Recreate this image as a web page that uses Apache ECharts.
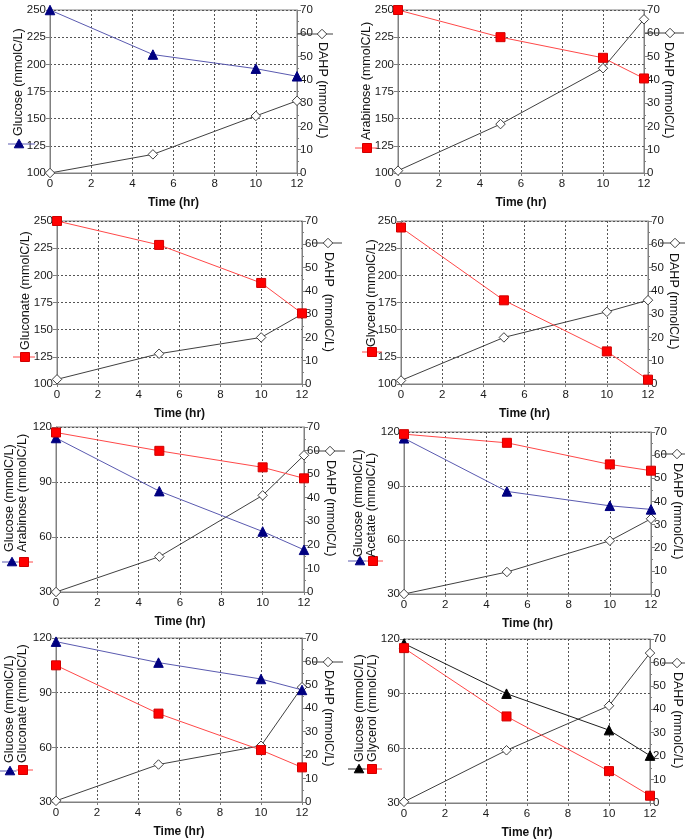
<!DOCTYPE html>
<html><head><meta charset="utf-8">
<script src="https://cdn.jsdelivr.net/npm/echarts@6/dist/echarts.min.js"></script>
<style>html,body{margin:0;padding:0;background:#fff}#c{width:685px;height:840px}</style>
</head><body><div id="c"></div>
<script>
// ---- data ----
const time = [0, 5, 10, 12];
const xTicks = [0, 2, 4, 6, 8, 10, 12];
const p1Glucose = [250, 209, 196, 189];
const p1DAHP = [0, 8, 24.5, 31];
const p2Arabinose = [250, 225, 206, 187];
const p2DAHP = [1, 21, 45, 66];
const p3Gluconate = [250, 228, 193, 165];
const p3DAHP = [2, 13, 20, 30];
const p4Glycerol = [244, 177, 130, 104];
const p4DAHP = [1.5, 20, 31, 36];
const p5Glucose = [114, 85, 63, 53];
const p5Arabinose = [117, 107, 98, 92];
const p5DAHP = [0, 15, 41, 58];
const p6Glucose = [116.5, 87, 79, 77];
const p6Acetate = [118.8, 114, 102, 98.5];
const p6DAHP = [0, 9.5, 23, 32.5];
const p7Glucose = [118, 106.5, 97.5, 91.5];
const p7Gluconate = [105, 78.5, 58.5, 49];
const p7DAHP = [0.5, 16, 24, 49];
const p8Glucose = [117.5, 90, 70, 56];
const p8Glycerol = [115, 77.5, 47.5, 34];
const p8DAHP = [0.5, 22.5, 41.5, 64];
const leftTicksA = [100, 125, 150, 175, 200, 225, 250];
const leftTicksB = [30, 60, 90, 120];
const rightTicks = [0, 10, 20, 30, 40, 50, 60, 70];

// ---- styles ----
const BLUE_LINE = '#5a5ab0', BLUE_MK = '#000080';
const RED_LINE = '#ff4848', RED_MK = '#ff0000';
const BLACK = '#202020';
const FRAME = '#808080';
const FONT = 'Liberation Sans, Arial, sans-serif';

const styles = {
  glu: {symbol: 'triangle', size: 9.5, line: BLUE_LINE, mk: BLUE_MK, border: BLUE_MK},
  gluK: {symbol: 'triangle', size: 9.5, line: BLACK, mk: '#000', border: '#000'},
  red: {symbol: 'rect', size: 9, line: RED_LINE, mk: RED_MK, border: '#d00000'},
  dahp: {symbol: 'diamond', size: 9.5, line: '#404040', mk: '#fff', border: '#404040'}
};

// ---- panel layout ----
const panels = [
  {grid: [50, 10, 247, 163], ymin: 100, ymax: 250, yint: 25,
   left: [{name: 'Glucose (mmolC/L)', data: p1Glucose, st: 'glu', tx: 19, ty: 136, kx: 19, ky: 144}],
   keyLine: [8, 35], right: {name: 'DAHP (mmolC/L)', data: p1DAHP, tx: 322, ty: 42, kx: 322, ky: 34, l: [297, 333]}},
  {grid: [398, 10, 246, 163], ymin: 100, ymax: 250, yint: 25,
   left: [{name: 'Arabinose (mmolC/L)', data: p2Arabinose, st: 'red', tx: 367, ty: 140, kx: 367, ky: 148}],
   keyLine: [355, 377], right: {name: 'DAHP (mmolC/L)', data: p2DAHP, tx: 668, ty: 42, kx: 670, ky: 33, l: [645, 684]}},
  {grid: [57, 221, 245, 163], ymin: 100, ymax: 250, yint: 25,
   left: [{name: 'Gluconate (mmolC/L)', data: p3Gluconate, st: 'red', tx: 26, ty: 350, kx: 25, ky: 357}],
   keyLine: [13, 35], right: {name: 'DAHP  (mmolC/L)', data: p3DAHP, tx: 328, ty: 252, kx: 328, ky: 243, l: [313, 342]}},
  {grid: [401, 221, 247, 163], ymin: 100, ymax: 250, yint: 25,
   left: [{name: 'Glycerol (mmolC/L)', data: p4Glycerol, st: 'red', tx: 372, ty: 347, kx: 372, ky: 352}],
   keyLine: [362, 382], right: {name: 'DAHP (mmolC/L)', data: p4DAHP, tx: 673, ty: 253, kx: 675, ky: 243, l: [660, 685]}},
  {grid: [56, 427, 248, 165], ymin: 30, ymax: 120, yint: 30,
   left: [{name: 'Glucose (mmolC/L)', data: p5Glucose, st: 'glu', tx: 10, ty: 552, kx: 12, ky: 562},
          {name: 'Arabinose (mmolC/L)', data: p5Arabinose, st: 'red', tx: 23, ty: 552, kx: 24, ky: 562}],
   keyLine: [2, 33], right: {name: 'DAHP (mmolC/L)', data: p5DAHP, tx: 330, ty: 460, kx: 330, ky: 451, l: [315, 345]}},
  {grid: [404, 432, 247, 162], ymin: 30, ymax: 120, yint: 30,
   left: [{name: 'Glucose (mmolC/L)', data: p6Glucose, st: 'glu', tx: 359, ty: 557, kx: 360, ky: 561},
          {name: 'Acetate (mmolC/L)', data: p6Acetate, st: 'red', tx: 372, ty: 557, kx: 373, ky: 561}],
   keyLine: [348, 383], right: {name: 'DAHP (mmolC/L)', data: p6DAHP, tx: 677, ty: 463, kx: 677, ky: 454, l: [662, 685]}},
  {grid: [56, 638, 246, 164], ymin: 30, ymax: 120, yint: 30,
   left: [{name: 'Glucose (mmolC/L)', data: p7Glucose, st: 'glu', tx: 10, ty: 763, kx: 10, ky: 771},
          {name: 'Gluconate (mmolC/L)', data: p7Gluconate, st: 'red', tx: 23, ty: 763, kx: 23, ky: 770}],
   keyLine: [0, 33], right: {name: 'DAHP (mmolC/L)', data: p7DAHP, tx: 328, ty: 670, kx: 328, ky: 662, l: [313, 343]}},
  {grid: [404, 639, 246, 164], ymin: 30, ymax: 120, yint: 30,
   left: [{name: 'Glucose (mmolC/L)', data: p8Glucose, st: 'gluK', tx: 360, ty: 762, kx: 359, ky: 769},
          {name: 'Glycerol (mmolC/L)', data: p8Glycerol, st: 'red', tx: 373, ty: 762, kx: 372, ky: 769}],
   keyLine: [348, 382], right: {name: 'DAHP (mmolC/L)', data: p8DAHP, tx: 677, ty: 672, kx: 677, ky: 663, l: [662, 685]}}
];

const grids = [], xAxes = [], yAxes = [], series = [], graphics = [];

function keyShape(st, x, y) {
  const s = styles[st];
  const h = s.size / 2;
  const style = {fill: s.mk, stroke: s.border, lineWidth: 1};
  if (s.symbol === 'triangle') return {type: 'polygon', shape: {points: [[x, y - h], [x + h, y + h * 0.8], [x - h, y + h * 0.8]]}, style, z: 10};
  if (s.symbol === 'rect') return {type: 'rect', shape: {x: x - h, y: y - h, width: s.size, height: s.size}, style, z: 10};
  return {type: 'polygon', shape: {points: [[x, y - h], [x + h, y], [x, y + h], [x - h, y]]}, style, z: 10};
}
function keyLine(x1, x2, y, color) {
  return {type: 'line', shape: {x1, y1: y, x2, y2: y}, style: {stroke: color, lineWidth: 1}, z: 9};
}

panels.forEach((p, i) => {
  const [l, t, w, h] = p.grid;
  grids.push({left: l, top: t, width: w, height: h, show: true, borderColor: FRAME, borderWidth: 1, backgroundColor: 'transparent', containLabel: false});
  xAxes.push({
    type: 'value', gridIndex: i, min: 0, max: 12, interval: 2,
    name: 'Time (hr)', nameLocation: 'middle', nameGap: 24,
    nameTextStyle: {fontFamily: FONT, fontSize: 12, fontWeight: 'bold', color: '#111'},
    axisLine: {show: true, lineStyle: {color: FRAME}},
    axisTick: {show: true, inside: false, length: 3, lineStyle: {color: FRAME}},
    axisLabel: {fontFamily: FONT, fontSize: 11.5, color: '#1a1a1a', margin: 5},
    splitLine: {show: true, lineStyle: {color: '#555', type: [2, 2], width: 1}}
  });
  yAxes.push({
    type: 'value', gridIndex: i, position: 'left', min: p.ymin, max: p.ymax, interval: p.yint,
    axisLine: {show: true, lineStyle: {color: FRAME}},
    axisTick: {show: true, inside: false, length: 4, lineStyle: {color: FRAME}},
    axisLabel: {fontFamily: FONT, fontSize: 11.5, color: '#1a1a1a', margin: 4},
    splitLine: {show: true, lineStyle: {color: '#555', type: [2, 2], width: 1}}
  });
  yAxes.push({
    type: 'value', gridIndex: i, position: 'right', min: 0, max: 70, interval: 10,
    axisLine: {show: true, lineStyle: {color: FRAME}},
    axisTick: {show: true, inside: false, length: 4, lineStyle: {color: FRAME}},
    minorTick: {show: true, splitNumber: 2, length: 2, lineStyle: {color: FRAME}},
    axisLabel: {fontFamily: FONT, fontSize: 11.5, color: '#1a1a1a', margin: 3},
    splitLine: {show: false}
  });
  p.left.forEach(s => {
    const st = styles[s.st];
    series.push({
      type: 'line', xAxisIndex: i, yAxisIndex: 2 * i,
      data: time.map((tt, k) => [tt, s.data[k]]),
      symbol: st.symbol, symbolSize: st.size, showAllSymbol: true,
      lineStyle: {color: st.line, width: 1},
      itemStyle: {color: st.mk, borderColor: st.border, borderWidth: 1},
      z: 3, animation: false
    });
  });
  const ds = styles.dahp;
  series.push({
    type: 'line', xAxisIndex: i, yAxisIndex: 2 * i + 1,
    data: time.map((tt, k) => [tt, p.right.data[k]]),
    symbol: 'diamond', symbolSize: ds.size, showAllSymbol: true,
    lineStyle: {color: ds.line, width: 1},
    itemStyle: {color: '#fff', borderColor: ds.border, borderWidth: 1},
    z: 2, animation: false
  });

  // left titles and keys
  const kl = p.keyLine;
  if (p.left.length === 1) {
    const s = p.left[0];
    graphics.push(keyLine(kl[0], kl[1], s.ky, styles[s.st].line));
    graphics.push(keyShape(s.st, s.kx, s.ky));
  } else {
    const a = p.left[0], b = p.left[1];
    const mid = (a.kx + b.kx) / 2;
    graphics.push(keyLine(kl[0], mid, a.ky, styles[a.st].line));
    graphics.push(keyLine(mid, kl[1], b.ky, styles[b.st].line));
    graphics.push(keyShape(a.st, a.kx, a.ky));
    graphics.push(keyShape(b.st, b.kx, b.ky));
  }
  p.left.forEach(s => {
    graphics.push({type: 'text', x: s.tx, y: s.ty, rotation: Math.PI / 2,
      style: {text: s.name, fontFamily: FONT, fontSize: 12.5, fill: '#111', textAlign: 'left', textVerticalAlign: 'middle'}, z: 10});
  });
  const r = p.right;
  graphics.push(keyLine(r.l[0], r.l[1], r.ky, '#404040'));
  graphics.push(keyShape('dahp', r.kx, r.ky));
  graphics.push({type: 'text', x: r.tx, y: r.ty, rotation: -Math.PI / 2,
    style: {text: r.name, fontFamily: FONT, fontSize: 12.5, fill: '#111', textAlign: 'left', textVerticalAlign: 'middle'}, z: 10});
});

const chart = echarts.init(document.getElementById('c'), null, {renderer: 'canvas'});
chart.setOption({
  backgroundColor: '#fff',
  animation: false,
  grid: grids, xAxis: xAxes, yAxis: yAxes, series: series,
  graphic: {elements: graphics}
});
</script></body></html>
